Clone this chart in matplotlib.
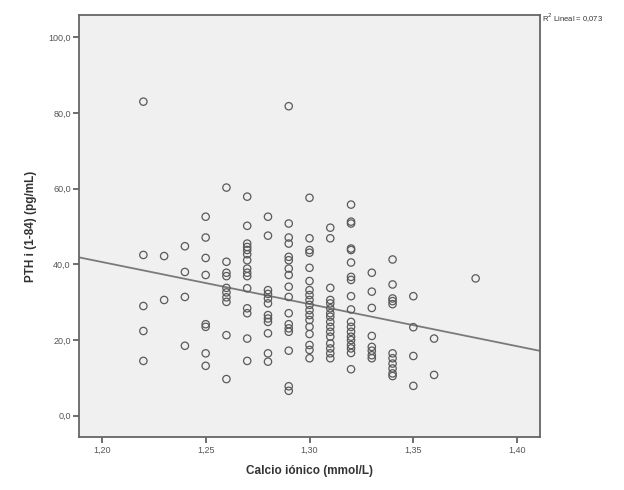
import matplotlib
matplotlib.use("Agg")
import matplotlib.pyplot as plt
import numpy as np
from matplotlib.ticker import FuncFormatter

plt.rcParams['font.family'] = ['Liberation Sans', 'DejaVu Sans']

# datos (calcio ionico vs PTH)
calcio = ([1.22] * 5 + [1.23] * 2 + [1.24] * 4 + [1.25] * 8 + [1.26] * 10
          + [1.27] * 15 + [1.28] * 12 + [1.29] * 17 + [1.30] * 18 + [1.31] * 16
          + [1.32] * 19 + [1.33] * 8 + [1.34] * 11 + [1.35] * 4 + [1.36] * 2 + [1.38])
pth = [83.0, 42.5, 29.0, 22.4, 14.5,
       42.2, 30.6,
       44.8, 38.0, 31.4, 18.5,
       52.6, 47.1, 41.7, 37.2, 24.2, 23.5, 16.5, 13.2,
       60.3, 40.7, 37.8, 36.9, 33.8, 32.6, 31.3, 30.1, 21.3, 9.7,
       57.9, 50.2, 45.5, 44.6, 43.8, 42.7, 41.1, 38.9, 37.8, 36.9, 33.7, 28.4, 27.1, 20.4, 14.5,
       52.6, 47.6, 33.2, 32.2, 31.0, 29.7, 26.6, 25.7, 24.8, 21.8, 16.5, 14.3,
       81.8, 50.8, 47.1, 45.5, 42.0, 41.1, 38.9, 37.2, 34.1, 31.4, 27.1, 24.2, 23.1, 22.2, 17.2, 7.8, 6.6,
       57.6, 46.9, 43.8, 43.1, 39.1, 35.6, 33.2, 31.9, 30.6, 29.3, 27.9, 26.6, 25.3, 23.5, 21.6, 18.7, 17.4, 15.2,
       49.7, 46.9, 33.8, 30.6, 29.7, 28.4, 27.1, 26.2, 24.8, 23.5, 22.2, 20.9, 19.1, 17.8, 16.5, 15.2,
       55.8, 51.3, 50.8, 44.2, 43.8, 40.5, 36.7, 35.9, 31.6, 28.1, 24.8, 23.5, 22.2, 20.9, 20.0, 18.7, 17.8, 16.6, 12.3,
       37.8, 32.8, 28.5, 21.1, 18.2, 17.2, 16.0, 15.2,
       41.3, 34.7, 31.0, 30.3, 29.5, 16.5, 15.2, 13.8, 12.5, 11.2, 10.5,
       31.6, 23.4, 15.8, 7.9,
       20.4, 10.8,
       36.3]

# recta de ajuste lineal
fit_intercept = 174.2
fit_slope = -111.3
r2_text = "0,073"

x_ticks = [1.20, 1.25, 1.30, 1.35, 1.40]
y_ticks = [0, 20, 40, 60, 80, 100]

fig = plt.figure(figsize=(6.24, 4.90), dpi=100)
ax = fig.add_axes([0.1266, 0.1082, 0.7388, 0.8612])
ax.set_facecolor('#f0f0f0')

ax.scatter(calcio, pth, s=28, facecolors='none', edgecolors='#5a5a5a', linewidths=0.9, zorder=3)

ax.set_xlim(1.189, 1.411)
ax.set_ylim(-5.6, 105.9)
xl = np.array(ax.get_xlim())
ax.plot(xl, fit_intercept + fit_slope * xl, color='#7a7a7a', lw=1.3, zorder=2)

ax.set_xticks(x_ticks)
ax.set_yticks(y_ticks)
ax.xaxis.set_major_formatter(FuncFormatter(lambda v, p: ('%.2f' % v).replace('.', ',')))
ax.yaxis.set_major_formatter(FuncFormatter(lambda v, p: ('%.1f' % v).replace('.', ',')))
ax.tick_params(direction='out', length=4, width=1.2, color='#555555', labelsize=6.5, labelcolor='#555555', pad=2)

for sp in ax.spines.values():
    sp.set_color('#666666')
    sp.set_linewidth(1.3)

ax.set_xlabel('Calcio iónico (mmol/L)', fontsize=8.5, fontweight='bold', color='#333333', labelpad=8)
ax.set_ylabel('PTH i (1-84) (pg/mL)', fontsize=8.5, fontweight='bold', color='#333333', labelpad=8)

fig.text(0.868, 0.962, r'R$^2$ Lineal = ' + r2_text, fontsize=5.5, color='#333333', va='center')

fig.savefig('out.png', dpi=100)
